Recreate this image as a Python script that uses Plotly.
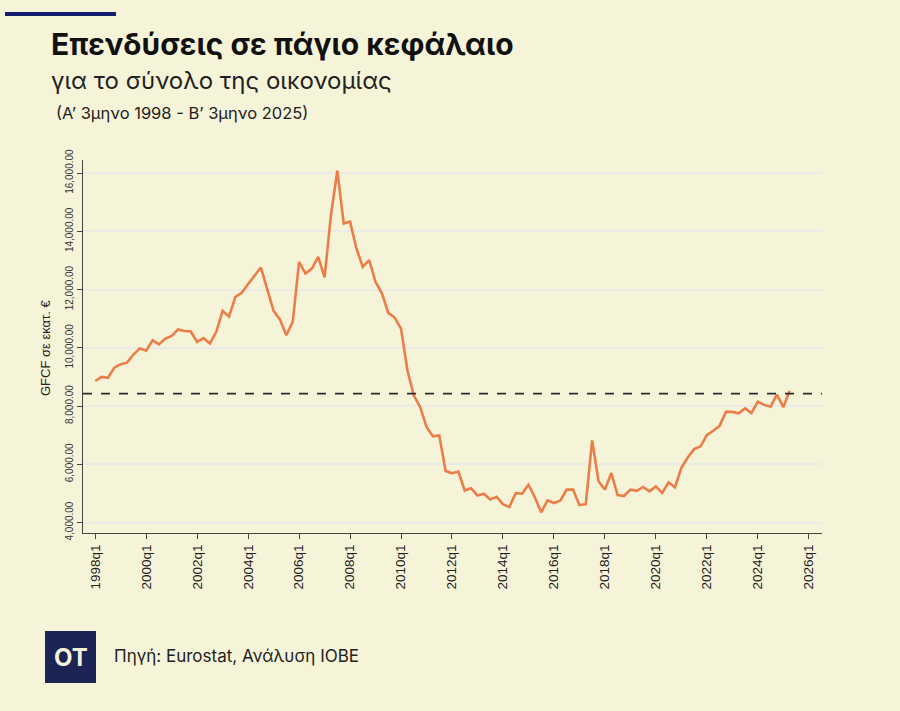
import plotly.graph_objects as go

# ---------------- data ----------------
start_year = 1998
gfcf = [
    8860, 9000, 8970, 9320, 9440, 9490, 9770, 9980, 9900, 10260,
    10120, 10320, 10410, 10630, 10580, 10560, 10200, 10330, 10150, 10550,
    11270, 11070, 11750, 11890, 12190, 12470, 12760, 12010, 11270, 10970,
    10430, 10890, 12950, 12550, 12720, 13120, 12420, 14560, 16080, 14270,
    14330, 13410, 12780, 13010, 12260, 11870, 11200, 11040, 10660, 9230,
    8370, 7970, 7280, 6960, 6990, 5770, 5690, 5750, 5100, 5180,
    4930, 4990, 4790, 4880, 4630, 4530, 5010, 4990, 5300, 4870,
    4350, 4760, 4670, 4750, 5130, 5130, 4600, 4630, 6820, 5420,
    5130, 5700, 4940, 4910, 5130, 5090, 5220, 5070, 5240, 5020,
    5380, 5210, 5880, 6230, 6520, 6610, 7000, 7150, 7320, 7800,
    7800, 7750, 7920, 7760, 8150, 8040, 7980, 8390, 7960, 8520,
]
quarters = [f"{start_year + i // 4}q{i % 4 + 1}" for i in range(len(gfcf))]
reference_level = 8430

x_tick_years = list(range(1998, 2027, 2))
x_tick_labels = [f"{y}q1" for y in x_tick_years]
y_tick_vals = [4000, 6000, 8000, 10000, 12000, 14000, 16000]
y_tick_labels = [f"{v:,.2f}" for v in y_tick_vals]

title_text = "Επενδύσεις σε πάγιο κεφάλαιο"
subtitle_text = "για το σύνολο της οικονομίας"
period_text = "(Α’ 3μηνο 1998 - Β’ 3μηνο 2025)"
y_title_text = "GFCF σε εκατ. €"
source_text = "Πηγή: Eurostat, Ανάλυση ΙΟΒΕ"
logo_text = "OT"

# ---------------- layout helpers ----------------
W, H = 900, 711
L, R, T, B = 83, 822, 160, 533
PW, PH = R - L, B - T


def px(xp):
    return (xp - L) / PW


def py(yp):
    return (B - yp) / PH


BG = "#F6F4D8"
ORANGE = "#EC7D48"
NAVY = "#141C6E"
LOGO = "#1C2456"

x_num = [int(q[:4]) + (int(q[-1]) - 1) / 4 for q in quarters]

fig = go.Figure()
fig.add_trace(go.Scatter(
    x=x_num, y=gfcf, mode="lines",
    line=dict(color=ORANGE, width=2.6),
    hoverinfo="skip", showlegend=False,
))

fig.add_shape(type="line", xref="paper", yref="y", x0=0, x1=1,
              y0=reference_level, y1=reference_level,
              line=dict(color="#2b2b2b", width=1.8, dash="dash"))

# top bar
fig.add_shape(type="rect", xref="paper", yref="paper",
              x0=px(5), x1=px(116), y0=py(16), y1=py(12),
              fillcolor=NAVY, line=dict(width=0))
# logo box
fig.add_shape(type="rect", xref="paper", yref="paper",
              x0=px(45), x1=px(96), y0=py(683), y1=py(631),
              fillcolor=LOGO, line=dict(width=0))

ann = []
ann.append(dict(text=f"<b>{title_text}</b>", x=px(49), y=py(44), xref="paper", yref="paper",
                xanchor="left", yanchor="middle", showarrow=False,
                font=dict(family="Inter", size=30, color="#111111")))
ann.append(dict(text=subtitle_text, x=px(49), y=py(80), xref="paper", yref="paper",
                xanchor="left", yanchor="middle", showarrow=False,
                font=dict(family="Inter", size=24, color="#222222")))
ann.append(dict(text=period_text, x=px(54), y=py(113), xref="paper", yref="paper",
                xanchor="left", yanchor="middle", showarrow=False,
                font=dict(family="Inter", size=16.5, color="#222222")))
ann.append(dict(text=y_title_text, x=px(45), y=py(348), xref="paper", yref="paper",
                xanchor="center", yanchor="middle", textangle=-90, showarrow=False,
                font=dict(family="Liberation Sans", size=13, color="#222222")))
ann.append(dict(text=source_text, x=px(112), y=py(656), xref="paper", yref="paper",
                xanchor="left", yanchor="middle", showarrow=False,
                font=dict(family="Inter", size=17, color="#222222")))
ann.append(dict(text=f"<b>{logo_text}</b>", x=px(70.5), y=py(657), xref="paper", yref="paper",
                xanchor="center", yanchor="middle", showarrow=False,
                font=dict(family="Inter", size=24, color=BG)))

fig.update_layout(
    width=W, height=H,
    margin=dict(l=L, r=W - R, t=T, b=H - B, pad=0),
    paper_bgcolor=BG, plot_bgcolor=BG,
    annotations=ann,
    showlegend=False,
)
fig.update_xaxes(
    range=[1997.52, 2026.52],
    tickmode="array", tickvals=x_tick_years, ticktext=x_tick_labels,
    tickangle=-90, ticks="outside", ticklen=5, tickcolor="#444444",
    showline=True, linecolor="#444444", linewidth=1.2,
    showgrid=False, zeroline=False,
    tickfont=dict(family="Liberation Sans", size=13.5, color="#222222"),
)
fig.update_yaxes(
    range=[3640, 16450],
    tickmode="array", tickvals=y_tick_vals, ticktext=y_tick_labels,
    tickangle=-90, ticks="outside", ticklen=5, tickcolor="#444444",
    showline=True, linecolor="#444444", linewidth=1.2,
    showgrid=True, gridcolor="#EAEAE6", gridwidth=1.5, zeroline=False,
    tickfont=dict(family="Liberation Sans", size=10, color="#333333"),
)

fig.write_html("out.html")
